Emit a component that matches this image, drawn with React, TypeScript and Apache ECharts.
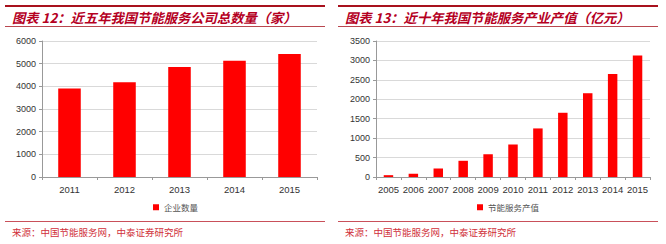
import React, { useEffect, useRef } from "react";
import * as echarts from "echarts";

const leftCategories = ["2011", "2012", "2013", "2014", "2015"];
const leftValues = [3900, 4175, 4852, 5126, 5426];
const leftSeriesName = "企业数量";
const leftTitle = "图表 12：近五年我国节能服务公司总数量（家）";

const rightCategories = ["2005", "2006", "2007", "2008", "2009", "2010", "2011", "2012", "2013", "2014", "2015"];
const rightValues = [47, 83, 217, 417, 588, 836, 1250, 1653, 2156, 2650, 3127];
const rightSeriesName = "节能服务产值";
const rightTitle = "图表 13：近十年我国节能服务产业产值（亿元）";

const sourceText = "来源：中国节能服务网，中泰证券研究所";

export default function App() {
  const ref = useRef<HTMLDivElement>(null);
  useEffect(() => {
    if (!ref.current) return;
    const chart = echarts.init(ref.current, undefined, { renderer: "svg" });
    const red = "#ff0000";
    const dark = "#b5001f";
    const cjk = '"Noto Sans CJK SC", sans-serif';
    const axisLabel = { color: "#333", fontSize: 9, fontFamily: '"Liberation Sans", Arial, sans-serif' };
    const plain = (v: number) => String(v);
    const panel = (x0: number, x1: number, title: string) => [
      { type: "rect", shape: { x: x0, y: 5, width: x1 - x0, height: 2 }, style: { fill: "#a8111d" } },
      { type: "rect", shape: { x: x0, y: 26, width: x1 - x0, height: 1 }, style: { fill: "#b9474f" } },
      { type: "rect", shape: { x: x0, y: 221, width: x1 - x0, height: 1 }, style: { fill: "#c9505a" } },
      {
        type: "text", x: x0 + 7, y: 17,
        style: { text: title, fill: dark, fontSize: 13.3, fontWeight: "bold", fontStyle: "italic", fontFamily: cjk, verticalAlign: "middle" },
      },
      {
        type: "text", x: x0 + 7, y: 232,
        style: { text: sourceText, fill: "#d0303a", fontSize: 9.5, fontFamily: cjk, verticalAlign: "middle" },
      },
    ];
    chart.setOption({
      animation: false,
      backgroundColor: "#fff",
      legend: [
        {
          data: [leftSeriesName], left: 148, top: 198, itemWidth: 6, itemHeight: 6, itemGap: 3,
          textStyle: { fontSize: 8.5, color: "#555", fontFamily: cjk }, icon: "rect",
        },
        {
          data: [rightSeriesName], left: 472, top: 198, itemWidth: 6, itemHeight: 6, itemGap: 3,
          textStyle: { fontSize: 8.5, color: "#555", fontFamily: cjk }, icon: "rect",
        },
      ],
      grid: [
        { left: 42, top: 41, width: 275, height: 136 },
        { left: 376, top: 41, width: 274, height: 136 },
      ],
      xAxis: [
        {
          type: "category", gridIndex: 0, data: leftCategories,
          axisLine: { lineStyle: { color: "#999" } },
          axisTick: { show: true, length: 3, lineStyle: { color: "#999" } },
          axisLabel: { ...axisLabel, fontSize: 9.5, margin: 7 },
        },
        {
          type: "category", gridIndex: 1, data: rightCategories,
          axisLine: { lineStyle: { color: "#999" } },
          axisTick: { show: true, length: 3, lineStyle: { color: "#999" } },
          axisLabel: { ...axisLabel, fontSize: 9.5, margin: 7, interval: 0 },
        },
      ],
      yAxis: [
        {
          type: "value", gridIndex: 0, min: 0, max: 6000, interval: 1000,
          axisLine: { show: true, lineStyle: { color: "#999" } },
          axisTick: { show: true, length: 3, lineStyle: { color: "#999" } },
          splitLine: { lineStyle: { color: "#d9d9d9" } },
          axisLabel: { ...axisLabel, margin: 6, formatter: plain },
        },
        {
          type: "value", gridIndex: 1, min: 0, max: 3500, interval: 500,
          axisLine: { show: true, lineStyle: { color: "#999" } },
          axisTick: { show: true, length: 3, lineStyle: { color: "#999" } },
          splitLine: { lineStyle: { color: "#d9d9d9" } },
          axisLabel: { ...axisLabel, margin: 6, formatter: plain },
        },
      ],
      series: [
        {
          name: leftSeriesName, type: "bar", xAxisIndex: 0, yAxisIndex: 0,
          data: leftValues, barWidth: "41%", itemStyle: { color: red },
        },
        {
          name: rightSeriesName, type: "bar", xAxisIndex: 1, yAxisIndex: 1,
          data: rightValues, barWidth: "38%", itemStyle: { color: red },
        },
      ],
      graphic: [...panel(5, 325, leftTitle), ...panel(338, 658, rightTitle)],
    });
    return () => chart.dispose();
  }, []);
  return <div ref={ref} style={{ width: 666, height: 244, position: "absolute", left: 0, top: 0 }} />;
}
